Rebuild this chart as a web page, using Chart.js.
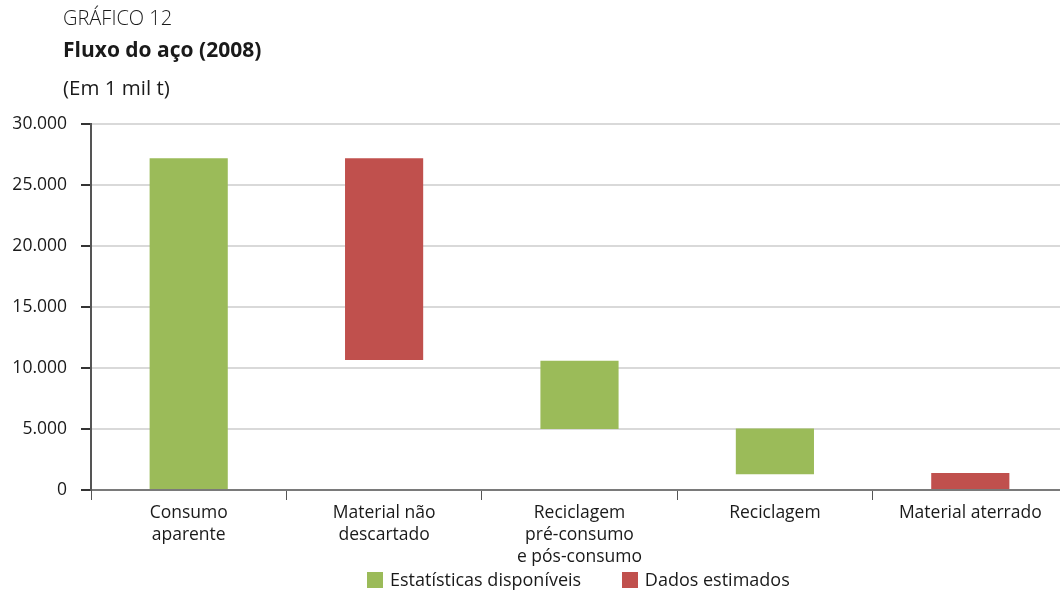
<!DOCTYPE html>
<html>
<head>
<meta charset="utf-8">
<script src="https://cdn.jsdelivr.net/npm/chart.js@4"></script>
<style>
  body { margin: 0; background: #fff; overflow: hidden; }
  #wrap { position: relative; width: 1060px; height: 590px; overflow: hidden; font-family: "Open Sans", sans-serif; color: #1a1a1a; }
  canvas { position: absolute; left: 0; top: 0; }
  .t { position: absolute; left: 63px; white-space: nowrap; }
  #legend { position: absolute; top: 567px; left: 367px; font-size: 18px; white-space: nowrap; }
  #legend span.box { display: inline-block; width: 16px; height: 16px; vertical-align: -2px; margin-right: 7px; }
</style>
</head>
<body>
<div id="wrap">
  <canvas id="fluxo" width="1068" height="590"></canvas>
  <div class="t" style="top:4px;font-size:20px;font-weight:300;">GRÁFICO 12</div>
  <div class="t" style="top:35px;font-size:21px;font-weight:700;">Fluxo do aço (2008)</div>
  <div class="t" style="top:73px;font-size:20.5px;">(Em 1 mil t)</div>
  <div id="legend">
    <span class="box" style="background:#9BBB59"></span>Estatísticas disponíveis
    <span class="box" style="background:#C0504D;margin-left:36px"></span>Dados estimados
  </div>
</div>
<script>
// categorias e valores (inicio, fim) em 1 mil t
var categorias = [
    ['Consumo', 'aparente'],
    ['Material não', 'descartado'],
    ['Reciclagem', 'pré-consumo', 'e pós-consumo'],
    'Reciclagem',
    'Material aterrado'
];
var estatisticas = [[0, 27200], null, [5000, 10600], [1300, 5050], null];
var estimados = [null, [10650, 27200], null, null, [0, 1400]];
var ticksY = [0, 5000, 10000, 15000, 20000, 25000, 30000];

var ctx = document.getElementById('fluxo');
var myChart = new Chart(ctx, {
    type: 'bar',
    data: {
        labels: categorias,
        datasets: [{
                label: 'Estatísticas disponíveis',
                data: estatisticas,
                backgroundColor: '#9BBB59',
                grouped: false,
                barPercentage: 0.4,
                categoryPercentage: 1
            },
            {
                label: 'Dados estimados',
                data: estimados,
                backgroundColor: '#C0504D',
                grouped: false,
                barPercentage: 0.4,
                categoryPercentage: 1
            }
        ]
    },
    options: {
        responsive: false,
        animation: false,
        layout: {
            padding: { top: 124, right: 0, left: 0, bottom: 0 }
        },
        plugins: {
            legend: { display: false },
            tooltip: { enabled: false }
        },
        scales: {
            x: {
                grid: {
                    drawOnChartArea: false,
                    tickLength: 10,
                    color: '#555',
                    lineWidth: 1
                },
                border: { color: '#7a7a7a', width: 2 },
                ticks: {
                    color: '#1a1a1a',
                    font: { family: 'Open Sans', size: 17.5, lineHeight: 1.26 },
                    maxRotation: 0,
                    padding: 2
                },
                afterFit: function (scale) { scale.height = 100; }
            },
            y: {
                min: 0,
                max: 30000,
                afterBuildTicks: function (scale) {
                    scale.ticks = ticksY.map(function (v) { return { value: v }; });
                },
                grid: {
                    color: '#d9d9d9',
                    lineWidth: 2,
                    tickLength: 10,
                    tickColor: '#333'
                },
                border: { color: '#555', width: 2 },
                ticks: {
                    color: '#1a1a1a',
                    font: { family: 'Open Sans', size: 17.5 },
                    padding: 14,
                    callback: function (v) { return v.toLocaleString('pt-BR'); }
                },
                afterFit: function (scale) { scale.width = 91; }
            }
        }
    }
});
</script>
</body>
</html>
